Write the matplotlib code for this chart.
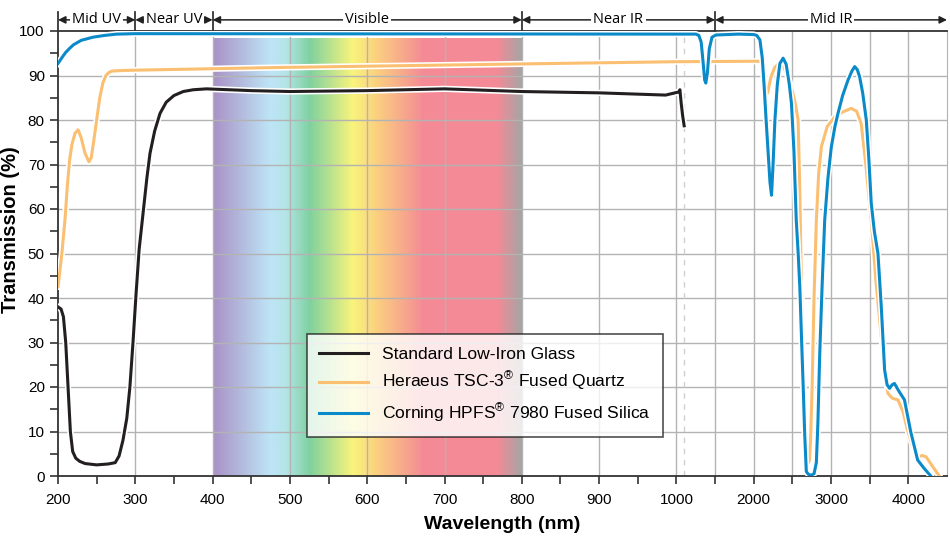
import numpy as np
import matplotlib
matplotlib.use("Agg")
import matplotlib.pyplot as plt
import matplotlib.patheffects as pe
import matplotlib.transforms as mtransforms
from matplotlib.colors import LinearSegmentedColormap

plt.rcParams['font.family'] = ['Liberation Sans', 'DejaVu Sans']
plt.rcParams['mathtext.fontset'] = 'custom'
plt.rcParams['mathtext.rm'] = 'Liberation Sans'

# wavelength (nm) / transmission (%)
low_iron_nm = [200, 204, 207, 210, 213, 216, 219, 223, 228, 235, 250, 265, 274, 279, 284,
               289, 293, 297, 301, 305, 310, 315, 319, 325, 332, 340, 350, 362, 375,
               392, 450, 500, 600, 700, 800, 900, 986, 1030, 1045, 1060, 1080, 1100]
low_iron_t = [38, 37.5, 35.8, 30, 20, 10, 5.5, 4, 3.3, 2.8, 2.5, 2.7, 3, 4.5, 8,
              13, 20, 30, 41, 51, 59, 67, 72.5, 77.5, 81.5, 84, 85.5, 86.4, 86.8,
              87, 86.6, 86.4, 86.6, 87, 86.4, 86.1, 85.6, 86.3, 86.8, 84, 81, 78.7]

quartz_nm = [200, 205, 209, 212, 215, 218, 222, 226, 230, 235, 240, 243, 246, 250, 254,
             258, 262, 266, 270, 280, 301, 486, 800, 1000,
             2000, 2060, 2100, 2130, 2150, 2165, 2185, 2220, 2270, 2338, 2390, 2445,
             2500, 2540, 2574, 2595, 2617, 2640, 2660, 2680, 2703, 2720, 2735, 2755,
             2780, 2810, 2840, 2875, 2950, 3047, 3150, 3260, 3330, 3390, 3450, 3520,
             3580, 3650, 3700, 3735, 3790, 3865, 3930, 3990, 4060, 4120, 4180, 4230,
             4300, 4400]
quartz_t = [42.5, 50, 57.5, 65, 71, 74.5, 77, 77.8, 76, 72.5, 70.6, 71.5, 75, 80, 85,
            88.3, 90, 90.7, 91, 91.1, 91.2, 91.8, 92.6, 93.1,
            93.2, 93.2, 93, 91.5, 88, 85.6, 86.5, 89.5, 91.8, 92.9, 91.8, 89.7,
            86.5, 83.5, 80, 65, 42.5, 24, 12.6, 5, 2.9, 3.5, 8, 20,
            40, 57.5, 68, 74, 78.5, 80.7, 81.8, 82.6, 82, 79.2, 70, 57.5,
            44, 31.3, 23, 18.6, 17.5, 17.1, 14.5, 10.3, 6.5, 4.3, 4.6, 4.3,
            2.5, 0]

silica_nm = [200, 205, 210, 215, 220, 230, 245, 260, 276, 300, 1000, 1250, 1290, 1320,
             1345, 1365, 1380, 1400, 1425, 1460, 1510, 1800, 2000, 2040, 2080,
             2110, 2135, 2160, 2187, 2210, 2230, 2250, 2274, 2305, 2338, 2380, 2420,
             2460, 2488, 2520, 2550, 2575, 2596, 2620, 2640, 2660, 2680, 2710, 2746,
             2780, 2810, 2830, 2854, 2885, 2918, 2960, 3004, 3050, 3090, 3150, 3220,
             3270, 3306, 3340, 3370, 3410, 3456, 3490, 3520, 3560, 3607, 3650, 3693,
             3725, 3757, 3790, 3820, 3880, 3950, 4030, 4120, 4200, 4290]
silica_t = [92.7, 94, 95.2, 96.1, 96.9, 97.9, 98.6, 99.0, 99.3, 99.4, 99.3, 99.3, 99.0, 97.5,
            93, 89, 88.3, 90.5, 96, 98.6, 99.1, 99.3, 99.2, 99, 98,
            94, 87.5, 80, 72.5, 66, 63.1, 70, 80, 88, 92.7, 93.9, 92.5,
            88, 83.7, 73, 57.5, 50, 42.5, 30, 20, 9, 1, 0.3, 0.2,
            0.5, 3, 12, 27.6, 43, 57.5, 67, 74, 78.5, 81.5, 85.5, 89,
            91, 92, 91.3, 89.7, 86, 80, 71, 61.3, 55, 50, 38, 23.8,
            20.5, 19.7, 20.5, 20.8, 19, 17.1, 10, 3.6, 1.8, 0]

labels = ['Standard Low-Iron Glass',
          'Heraeus TSC-3$^{®}$ Fused Quartz',
          'Corning HPFS$^{®}$ 7980 Fused Silica']
colors = ['#231f20', '#fbbf72', '#0a8ac8']

regions = ['Mid UV', 'Near UV', 'Visible', 'Near IR', 'Mid IR']
region_edges = [200, 300, 400, 800, 1500, 4500]

major_ticks = [200, 300, 400, 500, 600, 700, 800, 900, 1000, 2000, 3000, 4000]
minor_ticks = [250, 350, 450, 550, 650, 750, 850, 950, 1500, 2500, 3500]
grid_x = [300, 400, 500, 600, 700, 800, 900, 1000, 1500, 2000, 2500, 3000, 3500, 4000]

spectrum_stops = [(0.0, '#a993c7'), (0.18, '#bee4f6'), (0.23, '#b6e5ea'),
                  (0.31, '#7fd1a0'), (0.45, '#f9f47c'), (0.53, '#fbcf80'),
                  (0.68, '#f48b95'), (0.92, '#f58a96'), (1.0, '#a5a5a5')]


def fwd(x):
    x = np.asarray(x, dtype=float)
    return np.where(x <= 1000, x, 1000 + (x - 1000) / 10.0)


def inv(x):
    x = np.asarray(x, dtype=float)
    return np.where(x <= 1000, x, 1000 + (x - 1000) * 10.0)


fig = plt.figure(figsize=(9.5, 5.43), dpi=100)
ax = fig.add_axes([58 / 950, 67 / 543, 889 / 950, 445 / 543])
ax.set_xscale('function', functions=(fwd, inv))
ax.set_xlim(200, 4500)
ax.set_ylim(0, 100)

# visible spectrum band
cmap = LinearSegmentedColormap.from_list('spec', spectrum_stops)
grad = np.linspace(0, 1, 400).reshape(1, -1)
ax.imshow(grad, cmap=cmap, extent=[400, 800, 0, 98.6], aspect='auto',
          interpolation='bilinear', zorder=1)

for gx in grid_x:
    ax.axvline(gx, color='#b3b3b3', lw=1.0, zorder=2)
for gy in range(10, 100, 10):
    ax.axhline(gy, color='#b3b3b3', lw=1.0, zorder=2)
ax.axvline(1100, color='#d0d0d0', lw=1.0, ls=(0, (4, 4)), zorder=2)

halo = [pe.Stroke(linewidth=4.5, foreground='white'), pe.Normal()]
for xs, ys, lab, c in zip([low_iron_nm, quartz_nm, silica_nm],
                          [low_iron_t, quartz_t, silica_t], labels, colors):
    ax.plot(xs, ys, color=c, lw=2.2, label=lab, zorder=4,
            path_effects=halo, solid_joinstyle='round')

ax.set_xticks(major_ticks)
ax.set_xticklabels([str(t) for t in major_ticks])
ax.set_xticks(minor_ticks, minor=True)
ax.set_yticks(range(0, 101, 10))
ax.set_yticks(range(5, 100, 10), minor=True)
ax.tick_params(axis='both', which='both', direction='out', length=6, width=1.2,
               color='#333333', labelsize=11)
ax.tick_params(axis='x', pad=6)

for s in ['left', 'bottom', 'top']:
    ax.spines[s].set_color('#333333')
    ax.spines[s].set_linewidth(1.3)
ax.spines['right'].set_color('#b3b3b3')

ax.set_xlabel('Wavelength (nm)', fontsize=14, fontweight='bold', labelpad=7)
ax.set_ylabel('Transmission (%)', fontsize=14.5, fontweight='bold')
ax.yaxis.set_label_coords(-0.043, 0.553)

leg = ax.legend(loc='lower left', bbox_to_anchor=(0.28, 0.088), borderaxespad=0,
                fontsize=12.6, frameon=True, fancybox=False, handlelength=2.8,
                borderpad=0.7, labelspacing=0.45, handletextpad=0.8)
leg.get_frame().set_edgecolor('#222222')
leg.get_frame().set_linewidth(1.2)
for h in leg.get_lines():
    h.set_path_effects([])
    h.set_linewidth(2.2)

# region header above the plot
trans = mtransforms.blended_transform_factory(ax.transData, ax.transAxes)
for e in region_edges[:-1]:
    ax.plot([e, e], [1.0, 1.043], transform=trans, color='#222222', lw=1.2,
            clip_on=False)
for lab, a, b in zip(regions, region_edges[:-1], region_edges[1:]):
    ax.annotate('', xy=(a, 1.025), xytext=(b, 1.025), xycoords=trans,
                textcoords=trans,
                arrowprops=dict(arrowstyle='<|-|>', color='#222222', lw=1.1,
                                shrinkA=0, shrinkB=0, mutation_scale=11))
    mid = float(inv((fwd(a) + fwd(b)) / 2))
    ax.text(mid, 1.025, lab, transform=trans, ha='center', va='center',
            fontsize=10.5, family=['Open Sans', 'DejaVu Sans'],
            bbox=dict(boxstyle='square,pad=0.15', fc='white', ec='none'))

fig.savefig('out.png', dpi=100)
